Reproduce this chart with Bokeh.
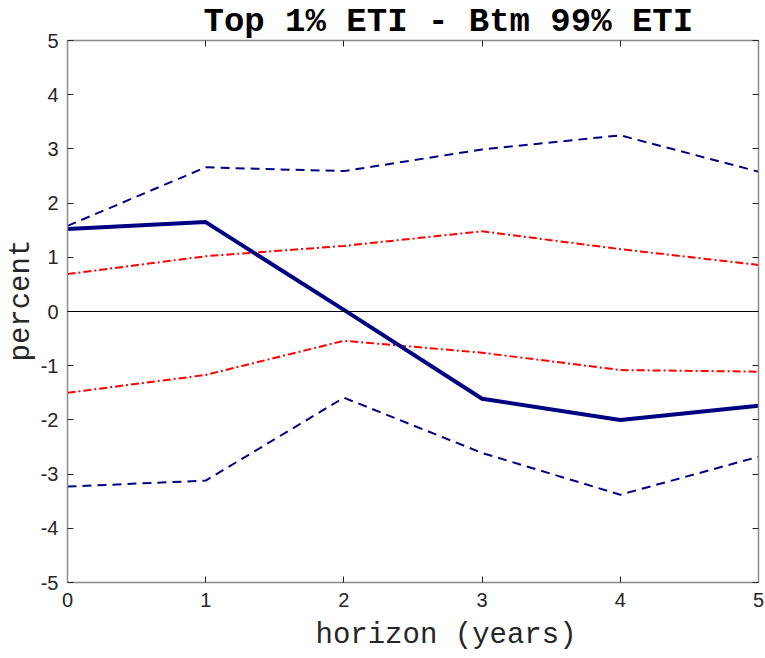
from bokeh.plotting import figure
from bokeh.models import (Range1d, LinearAxis, FixedTicker, Span, Title,
                          CustomJSTickFormatter)
from bokeh.embed import file_html
from bokeh.resources import INLINE

# Impulse response of the ETI gap with confidence bands
horizon = [0, 1, 2, 3, 4, 5]
point_est = [1.52, 1.65, 0.03, -1.61, -2.00, -1.74]
band90_upper = [1.58, 2.66, 2.59, 2.99, 3.25, 2.58]
band90_lower = [-3.23, -3.12, -1.59, -2.61, -3.38, -2.68]
band68_upper = [0.69, 1.02, 1.21, 1.48, 1.15, 0.86]
band68_lower = [-1.50, -1.17, -0.54, -0.76, -1.08, -1.11]

x_ticks = [0, 1, 2, 3, 4, 5]
y_ticks = [-5, -4, -3, -2, -1, 0, 1, 2, 3, 4, 5]

title_text = "Top 1% ETI - Btm 99% ETI"
x_label_text = "horizon (years)"
y_label_text = "percent"

NAVY = "#000080"
RED = "#ff0000"
AXIS_GREY = "#8a8a8a"
TICK_DARK = "#262626"
MONO = "Liberation Mono"

p = figure(width=765, height=658, output_backend="svg", toolbar_location=None,
           x_range=Range1d(0, 5), y_range=Range1d(-5, 5),
           min_border_left=67, min_border_right=7,
           min_border_top=40, min_border_bottom=75,
           background_fill_color="white", border_fill_color="white")
p.outline_line_color = None
p.xgrid.visible = False
p.ygrid.visible = False

# Plain hyphen-minus tick labels
plain_fmt = CustomJSTickFormatter(code="return tick.toString();")

# Bottom and left axes carry the tick labels
for ax, ticks in ((p.xaxis[0], x_ticks), (p.yaxis[0], y_ticks)):
    ax.ticker = FixedTicker(ticks=ticks)
    ax.formatter = plain_fmt
    ax.axis_line_color = AXIS_GREY
    ax.axis_line_width = 1.5
    ax.major_tick_line_color = TICK_DARK
    ax.major_tick_in = 6
    ax.major_tick_out = 0
    ax.minor_tick_line_color = None
    ax.major_label_text_font = "Liberation Sans"
    ax.major_label_text_font_size = "20px"
    ax.major_label_text_color = TICK_DARK
p.xaxis.major_label_standoff = 10
p.yaxis.major_label_standoff = 9

# Mirrored box axes on top and right (ticks only, no labels)
blank_fmt = CustomJSTickFormatter(code="return '';")
for loc, ticks in (("above", x_ticks), ("right", y_ticks)):
    ax = LinearAxis(ticker=FixedTicker(ticks=ticks), formatter=blank_fmt)
    ax.axis_line_color = AXIS_GREY
    ax.axis_line_width = 1.5
    ax.major_tick_line_color = TICK_DARK
    ax.major_tick_in = 6
    ax.major_tick_out = 0
    ax.minor_tick_line_color = None
    ax.major_label_standoff = 0
    p.add_layout(ax, loc)

# Zero reference line
p.add_layout(Span(location=0, dimension="width", line_color="black", line_width=1.2))

# Confidence bands
p.line(horizon, band90_upper, line_color=NAVY, line_width=2, line_dash="9 6")
p.line(horizon, band90_lower, line_color=NAVY, line_width=2, line_dash="9 6")
p.line(horizon, band68_upper, line_color=RED, line_width=2, line_dash="8 3 2 3")
p.line(horizon, band68_lower, line_color=RED, line_width=2, line_dash="8 3 2 3")

# Point estimate
p.line(horizon, point_est, line_color=NAVY, line_width=4)

# Title and axis labels in a Courier-style monospace face
p.add_layout(Title(text=title_text, text_font=MONO, text_font_style="bold",
                   text_font_size="34px", align="left", offset=136,
                   standoff=0, text_color="black"), "above")
p.add_layout(Title(text=x_label_text, text_font=MONO, text_font_style="normal",
                   text_font_size="29px", align="left", offset=248,
                   standoff=14, text_color=TICK_DARK), "below")
p.add_layout(Title(text=y_label_text, text_font=MONO, text_font_style="normal",
                   text_font_size="29px", align="left", offset=221,
                   standoff=0, text_color=TICK_DARK), "left")

open("out.html", "w").write(file_html(p, INLINE))
